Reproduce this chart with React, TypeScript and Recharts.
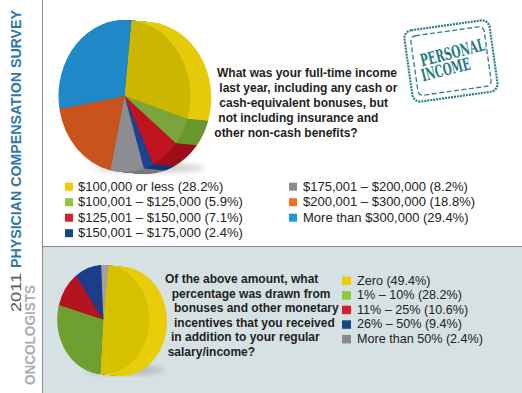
import React from "react";
import { PieChart, Pie, Cell } from "recharts";

// ---- data ----
const incomeLabels = [
  "$100,000 or less",
  "$100,001 – $125,000",
  "$125,001 – $150,000",
  "$150,001 – $175,000",
  "$175,001 – $200,000",
  "$200,001 – $300,000",
  "More than $300,000",
];
const incomeShares = [28.2, 5.9, 7.1, 2.4, 8.2, 18.8, 29.4];

const bonusLabels = ["Zero", "1% – 10%", "11% – 25%", "26% – 50%", "More than 50%"];
const bonusShares = [49.4, 28.2, 10.6, 9.4, 2.4];

const question1 = [
  "What was your full-time income",
  "last year, including any cash or",
  "cash-equivalent bonuses, but",
  "not including insurance and",
  "other non-cash benefits?",
];
const question2 = [
  "Of the above amount, what",
  "percentage was drawn from",
  "bonuses and other monetary",
  "incentives that you received",
  "in addition to your regular",
  "salary/income?",
];

// ---- styles ----
const faceTop = ["#cbb700", "#7ba53a", "#c01320", "#1c4393", "#8b8d90", "#c9521d", "#1f88c6"];
const rimTop = ["#e6cb0a", "#6a972e", "#9d0f18", "#15357a", "#77797c", "#a9431a", "#1a74aa"];
const faceBot = ["#d6c100", "#6f9e31", "#b5141f", "#1b3d8c", "#a2a2a2"];
const rimBot = ["#e8cd08", "#5d8a28", "#960f18", "#142f70", "#888888"];
const legendTop = ["#efcb00", "#8dc63f", "#d71e2b", "#0f4a86", "#8a8a8a", "#f36f21", "#1b98d5"];
const legendBot = ["#efcb00", "#8dc63f", "#d71e2b", "#0f4a86", "#8a8a8a"];

const SANS = "'Liberation Sans', Arial, Helvetica, sans-serif";
const STAMP = "'DejaVu Serif Condensed', 'DejaVu Serif', 'Liberation Serif', serif";

const incomeData = incomeLabels.map((name, i) => ({ name, value: incomeShares[i] }));
const bonusData = bonusLabels.map((name, i) => ({ name, value: bonusShares[i] }));

function Pie3D(props: {
  data: { name: string; value: number }[];
  faces: string[];
  rims: string[];
  w: number;
  h: number;
  cx: number;
  cy: number;
  r: number;
  depth: number;
  dy: number;
  start: number;
}) {
  const { data, faces, rims, w, h, cx, cy, r, depth, dy, start } = props;
  const layers: number[] = [];
  for (let k = depth; k >= 1; k--) layers.push(k);
  return (
    <PieChart width={w} height={h} style={{ background: "transparent" }}>
      {layers.map((i) => (
        <Pie
          key={"layer" + i}
          data={data}
          dataKey="value"
          cx={cx + i}
          cy={cy + (dy * i) / depth}
          innerRadius={0}
          outerRadius={r}
          startAngle={start}
          endAngle={start - 360}
          stroke="none"
          isAnimationActive={false}
          label={false}
          labelLine={false}
        >
          {data.map((d, j) => (
            <Cell key={d.name} fill={rims[j]} stroke="none" />
          ))}
        </Pie>
      ))}
      <Pie
        key="face"
        data={data}
        dataKey="value"
        cx={cx}
        cy={cy}
        innerRadius={0}
        outerRadius={r}
        startAngle={start}
        endAngle={start - 360}
        stroke="none"
        isAnimationActive={false}
        label={false}
        labelLine={false}
      >
        {data.map((d, j) => (
          <Cell key={d.name} fill={faces[j]} stroke="none" />
        ))}
      </Pie>
    </PieChart>
  );
}

export default function App() {
  const topCol1 = [0, 1, 2, 3];
  const topCol2 = [4, 5, 6];
  return (
    <div
      style={{
        position: "absolute",
        left: 0,
        top: 0,
        width: 522,
        height: 393,
        background: "#ffffff",
        overflow: "hidden",
      }}
    >
      <svg width={522} height={393} style={{ position: "absolute", left: 0, top: 0 }}>
        <defs>
          <filter id="blur" x="-50%" y="-50%" width="200%" height="200%">
            <feGaussianBlur stdDeviation="3" />
          </filter>
        </defs>
        <rect x={42} y={246} width={480} height={147} fill="#d6e1e4" />
        <line x1={42.5} y1={0} x2={42.5} y2={393} stroke="#8c8c8c" strokeWidth={1} />
        <line x1={42} y1={246.5} x2={522} y2={246.5} stroke="#8c8c8c" strokeWidth={1} />

        {/* pie shadows */}
        <ellipse cx={150} cy={168} rx={55} ry={4} fill="#000" opacity={0.22} filter="url(#blur)" />
        <ellipse cx={125} cy={370} rx={40} ry={3.5} fill="#000" opacity={0.22} filter="url(#blur)" />

        {/* sidebar */}
        <text
          transform="translate(21,312) rotate(-90)"
          fontFamily={SANS}
          fontSize={15.5}
          fill="#5a5a5a"
          textLength={39}
          lengthAdjust="spacingAndGlyphs"
        >
          2011
        </text>
        <text
          transform="translate(21,268) rotate(-90)"
          fontFamily={SANS}
          fontSize={15.5}
          fontWeight="bold"
          fill="#2f76aa"
          textLength={258}
          lengthAdjust="spacingAndGlyphs"
        >
          PHYSICIAN COMPENSATION SURVEY
        </text>
        <text
          transform="translate(35,385) rotate(-90)"
          fontFamily={SANS}
          fontSize={14.5}
          fontWeight="bold"
          fill="#a9aeb1"
          textLength={100}
          lengthAdjust="spacingAndGlyphs"
        >
          ONCOLOGISTS
        </text>

        {/* question 1 */}
        {question1.map((t, i) => (
          <text
            key={t}
            x={[217, 219.3, 219.3, 218.3, 214.3][i]}
            y={77 + i * 14.9}
            fontFamily={SANS}
            fontSize={12}
            fontWeight="bold"
            fill="#1e1e1e"
          >
            {t}
          </text>
        ))}

        {/* question 2 */}
        {question2.map((t, i) => (
          <text
            key={t}
            x={[165, 171.7, 174, 174, 171, 167.7][i]}
            y={283 + i * 14.6}
            fontFamily={SANS}
            fontSize={12}
            fontWeight="bold"
            fill="#1e1e1e"
          >
            {t}
          </text>
        ))}

        {/* legend top */}
        {topCol1.map((idx, row) => (
          <g key={"l1" + idx}>
            <rect x={65} y={182.7 + row * 15.5} width={8} height={8} fill={legendTop[idx]} />
            <text x={78} y={190.7 + row * 15.5} fontFamily={SANS} fontSize={13} fill="#222">
              {incomeLabels[idx] + " (" + incomeShares[idx].toFixed(1) + "%)"}
            </text>
          </g>
        ))}
        {topCol2.map((idx, row) => (
          <g key={"l2" + idx}>
            <rect x={289} y={182.7 + row * 15.5} width={8} height={8} fill={legendTop[idx]} />
            <text x={303} y={190.7 + row * 15.5} fontFamily={SANS} fontSize={13} fill="#222">
              {incomeLabels[idx] + " (" + incomeShares[idx].toFixed(1) + "%)"}
            </text>
          </g>
        ))}

        {/* legend bottom */}
        {bonusLabels.map((lab, row) => (
          <g key={"lb" + row}>
            <rect x={342} y={276.5 + row * 14.6} width={9} height={8.5} fill={legendBot[row]} />
            <text x={357} y={284.5 + row * 14.6} fontFamily={SANS} fontSize={12.6} fill="#222">
              {lab + " (" + bonusShares[row].toFixed(1) + "%)"}
            </text>
          </g>
        ))}

        {/* stamp */}
        <g transform="translate(451,61) rotate(-8)" fill="none" stroke="#2b8084">
          <rect x={-43} y={-36} width={86} height={72} rx={8} strokeWidth={2.2} strokeDasharray="2 1" />
          <rect x={-37} y={-30} width={74} height={60} rx={5} strokeWidth={1.3} strokeDasharray="5 2.5" />
        </g>
        <text
          transform="translate(422,66.5) rotate(-14.5)"
          fontFamily={STAMP}
          fontSize={17}
          fontWeight="bold"
          fill="#237a7f"
          textLength={66}
          lengthAdjust="spacingAndGlyphs"
        >
          PERSONAL
        </text>
        <text
          transform="translate(423,81.5) rotate(-14.5)"
          fontFamily={STAMP}
          fontSize={17}
          fontWeight="bold"
          fill="#237a7f"
          textLength={50}
          lengthAdjust="spacingAndGlyphs"
        >
          INCOME
        </text>
      </svg>

      {/* top pie */}
      <div
        style={{
          position: "absolute",
          left: 42,
          top: 0,
          width: 200,
          height: 180,
          transform: "scaleX(0.868)",
          transformOrigin: "0 0",
        }}
      >
        <Pie3D
          data={incomeData}
          faces={faceTop}
          rims={rimTop}
          w={200}
          h={180}
          cx={90}
          cy={91}
          r={76}
          depth={24}
          dy={2}
          start={84}
        />
      </div>

      {/* bottom pie */}
      <div
        style={{
          position: "absolute",
          left: 42,
          top: 250,
          width: 160,
          height: 130,
          transform: "scaleX(0.845)",
          transformOrigin: "0 0",
        }}
      >
        <Pie3D
          data={bonusData}
          faces={faceBot}
          rims={rimBot}
          w={160}
          h={130}
          cx={67.5}
          cy={64.5}
          r={54.5}
          depth={21}
          dy={2}
          start={84}
        />
      </div>
    </div>
  );
}
